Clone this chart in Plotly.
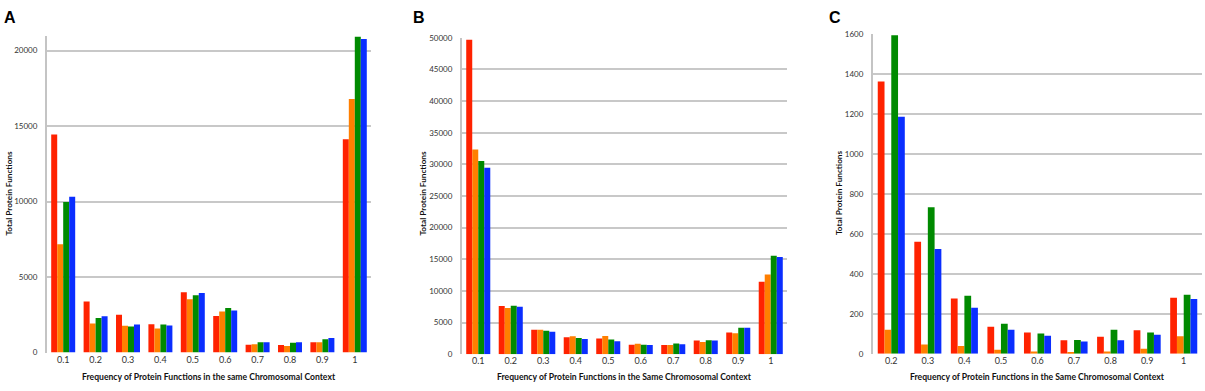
import plotly.graph_objects as go

cats_a = ["0.1", "0.2", "0.3", "0.4", "0.5", "0.6", "0.7", "0.8", "0.9", "1"]
a_red = [14440, 3390, 2500, 1880, 4000, 2420, 520, 500, 680, 14140]
a_orange = [7170, 1920, 1770, 1600, 3540, 2720, 560, 440, 680, 16800]
a_green = [9970, 2290, 1730, 1860, 3800, 2960, 690, 650, 890, 20920]
a_blue = [10320, 2400, 1860, 1800, 3950, 2780, 690, 680, 970, 20770]

cats_b = ["0.1", "0.2", "0.3", "0.4", "0.5", "0.6", "0.7", "0.8", "0.9", "1"]
b_red = [49700, 7600, 3850, 2670, 2460, 1480, 1430, 2160, 3440, 11450]
b_orange = [32360, 7290, 3850, 2820, 2870, 1640, 1430, 1900, 3290, 12580]
b_green = [30550, 7650, 3700, 2560, 2310, 1480, 1690, 2200, 4160, 15560]
b_blue = [29480, 7500, 3540, 2400, 2050, 1430, 1580, 2150, 4160, 15350]

cats_c = ["0.2", "0.3", "0.4", "0.5", "0.6", "0.7", "0.8", "0.9", "1"]
c_red = [1362, 561, 277, 136, 107, 68, 86, 118, 280]
c_orange = [120, 47, 39, 21, 12, 7, 12, 26, 88]
c_green = [1593, 733, 290, 151, 102, 69, 120, 107, 295]
c_blue = [1186, 525, 230, 120, 91, 62, 68, 96, 274]

colors = ["#FF2200", "#FF7F00", "#008A00", "#0A2EFF"]
FONT = "Lato"

fig = go.Figure()
panels = [
    ("x", "y", cats_a, [a_red, a_orange, a_green, a_blue]),
    ("x2", "y2", cats_b, [b_red, b_orange, b_green, b_blue]),
    ("x3", "y3", cats_c, [c_red, c_orange, c_green, c_blue]),
]
for xa, ya, cats, series in panels:
    for vals, col in zip(series, colors):
        fig.add_trace(go.Bar(x=cats, y=vals, xaxis=xa, yaxis=ya,
                             marker=dict(color=col, line=dict(width=0)),
                             showlegend=False))

W, H = 1205, 391

def px_x(a, b):
    return [a / W, b / W]
def px_y(top, bottom):
    return [(H - bottom) / H, (H - top) / H]

xstyle = dict(showgrid=False, showline=False, ticks="", zeroline=False,
              tickfont=dict(family=FONT, size=9, color="#333333"), type="category")
ystyle = dict(showgrid=True, gridcolor="#C8C8C8", gridwidth=1.5, showline=True,
              linecolor="#C4C4C4", linewidth=2, ticks="", zeroline=False,
              tickformat="d", ticklabelstandoff=6,
              tickfont=dict(family=FONT, size=8, color="#333333"))

fig.update_layout(
    width=W, height=H, margin=dict(l=0, r=0, t=0, b=0),
    paper_bgcolor="white", plot_bgcolor="white",
    barmode="group", bargap=0.26, bargroupgap=0,
    xaxis=dict(domain=px_x(47, 371), anchor="y", **xstyle),
    yaxis=dict(domain=px_y(31.4, 356.7), anchor="x", range=[0, 21000], dtick=5000, **ystyle),
    xaxis2=dict(domain=px_x(462, 787), anchor="y2", **xstyle),
    yaxis2=dict(domain=px_y(33.7, 358.3), anchor="x2", range=[0, 50000], dtick=5000, **ystyle),
    xaxis3=dict(domain=px_x(873, 1202), anchor="y3", **xstyle),
    yaxis3=dict(domain=px_y(29.7, 358), anchor="x3", range=[0, 1600], dtick=200, **ystyle),
)

def ann(text, x, y, size, bold=True, angle=0, family=FONT, color="#111111"):
    t = f"<b>{text}</b>" if bold else text
    fig.add_annotation(text=t, x=x / W, y=1 - y / H, xref="paper", yref="paper",
                       showarrow=False, textangle=angle, xanchor="center", yanchor="middle",
                       font=dict(family=family, size=size, color=color))

ann("A", 10, 12.5, 16, family="Liberation Sans", color="black")
ann("B", 419, 12.5, 16, family="Liberation Sans", color="black")
ann("C", 835, 12.5, 16, family="Liberation Sans", color="black")

ann("Frequency of Protein Functions in the same Chromosomal Context", 209, 382, 8.6)
ann("Frequency of Protein Functions in the Same Chromosomal Context", 624, 382, 8.6)
ann("Frequency of Protein Functions in the Same Chromosomal Context", 1037, 382, 8.6)

ann("Total Protein Functions", 9.5, 193, 8.2, angle=-90)
ann("Total Protein Functions", 423.5, 193, 8.2, angle=-90)
ann("Total Protein Functions", 839, 193, 8.2, angle=-90)

fig.write_html("out.html", config={"displayModeBar": False},
               post_script="document.body.style.margin='0px';")
